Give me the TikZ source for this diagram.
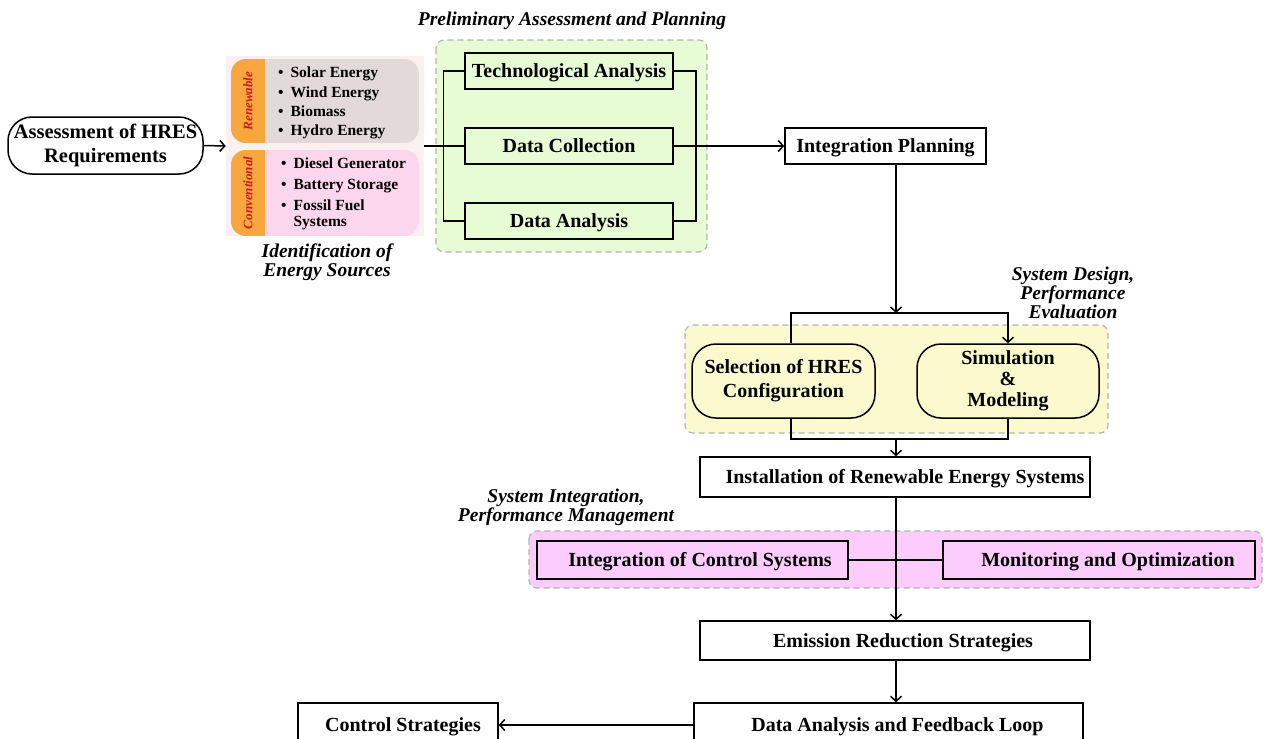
\documentclass[tikz,border=0pt]{standalone}
\usepackage{fontspec}
\setmainfont{Liberation Serif}
\usetikzlibrary{arrows.meta,calc}
\definecolor{greenbg}{RGB}{231,251,212}
\definecolor{yellowbg}{RGB}{251,250,206}
\definecolor{pinkbg}{RGB}{252,204,252}
\definecolor{ebg}{RGB}{252,239,239}
\definecolor{rengray}{RGB}{226,218,218}
\definecolor{convpink}{RGB}{252,214,236}
\definecolor{stripor}{RGB}{248,166,62}
\definecolor{lblred}{RGB}{200,28,40}
\definecolor{dashgray}{RGB}{180,180,180}
\newcommand\bxfont{\fontsize{20}{24}\selectfont\bfseries}
\newcommand\asfont{\fontsize{20.5}{24}\selectfont\bfseries}
\newcommand\ttfnt{\fontsize{19.5}{19}\selectfont\bfseries\itshape}
\newcommand\lsfont{\fontsize{15.5}{19.3}\selectfont\bfseries}
\tikzset{
  line/.style={line width=1.5pt, black},
  arr/.style={line, -{Straight Barb[length=5pt,width=11pt,line width=1.5pt]}},
  rbox/.style={draw, line width=1.5pt, rectangle, font=\bxfont, inner sep=0pt, align=center},
  sbox/.style={rbox, text height=15pt, text depth=2pt},
  pill/.style={rbox, rounded corners=24pt},
  grp/.style={draw=dashgray, line width=1.2pt, rounded corners=8pt, dash pattern=on 6pt off 4pt},
  ttl/.style={font=\ttfnt, align=center},
  vlab/.style={rotate=90, font=\fontsize{13}{15}\selectfont\bfseries\itshape, text=lblred},
}
\begin{document}
\begin{tikzpicture}[x=1pt,y=-1pt]
\useasboundingbox (0,0) rectangle (1264,739);
\clip (0,0) rectangle (1264,739);
\fill[white] (0,0) rectangle (1264,739);

% group backgrounds
\path[grp, fill=greenbg] (436,40) rectangle (707,252);
\path[grp, fill=yellowbg] (685,325) rectangle (1108,433);
\path[grp, fill=pinkbg] (529,531) rectangle (1262,588);

% assessment
\node[pill, minimum width=195, minimum height=57, font=\asfont] (assess) at (105.5,145.5) {Assessment of HRES\\Requirements};

% energy sources
\node[fill=ebg, minimum width=198, minimum height=180, inner sep=0pt] (sources) at (325,146) {};
\begin{scope}
\clip[rounded corners=15pt] (231,59) rectangle (419,143);
\fill[rengray] (231,59) rectangle (419,143);
\fill[stripor] (231,59) rectangle (265,143);
\end{scope}
\begin{scope}
\clip[rounded corners=15pt] (231,150) rectangle (419,236);
\fill[convpink] (231,150) rectangle (419,236);
\fill[stripor] (231,150) rectangle (265,236);
\end{scope}
\node[vlab] (lren) at (248,101) {Renewable};
\node[vlab] (lconv) at (248,193) {Conventional};
\node[anchor=west, inner sep=0pt, font=\lsfont] (renlist) at (278,103) {\begin{tabular}{@{}l@{\hspace{7pt}}l@{}}\textbullet & Solar Energy\\ \textbullet & Wind Energy\\ \textbullet & Biomass\\ \textbullet & Hydro Energy\end{tabular}};
\node[anchor=west, inner sep=0pt, font=\fontsize{15.5}{16}\selectfont\bfseries] (convlist) at (281,194) {\begin{tabular}{@{}l@{\hspace{7pt}}l@{}}\textbullet & Diesel Generator\\[5pt] \textbullet & Battery Storage\\[5pt] \textbullet & Fossil Fuel\\ & Systems\end{tabular}};

% preliminary
\node[sbox, minimum width=208, minimum height=36] (tech) at (569,71) {Technological Analysis};
\node[sbox, minimum width=208, minimum height=36] (datacol) at (569,146) {Data Collection};
\node[sbox, minimum width=208, minimum height=36] (dana) at (569,221) {Data Analysis};
\node[sbox, minimum width=201, minimum height=36] (intplan) at (885.5,146) {Integration Planning};

% design
\node[pill, fill=yellowbg, minimum width=183, minimum height=74] (sel) at (783.5,381) {Selection of HRES\\Configuration};
\node[pill, fill=yellowbg, minimum width=182, minimum height=74] (sim) at (1008,381) {Simulation\\[-3pt]\&\\[-3pt]Modeling};

\node[sbox, fill=white, minimum width=390, minimum height=40] (inst) at (895,477) {\hspace*{20pt}Installation of Renewable Energy Systems};
\node[sbox, fill=pinkbg, minimum width=311, minimum height=38] (intctrl) at (692.5,560) {\hspace*{15pt}Integration of Control Systems};
\node[sbox, fill=pinkbg, minimum width=312, minimum height=38] (monitor) at (1099,560) {\hspace*{18pt}Monitoring and Optimization};
\node[sbox, fill=white, minimum width=390, minimum height=39] (emis) at (895,640.5) {\hspace*{16pt}Emission Reduction Strategies};
\node[sbox, fill=white, minimum width=389, minimum height=44] (fb) at (888.5,725) {\hspace*{18pt}Data Analysis and Feedback Loop};
\node[sbox, fill=white, minimum width=200, minimum height=44] (ctrl) at (398,725) {\hspace*{10pt}Control Strategies};

% titles
\node[ttl] (t1) at (572,21) {Preliminary Assessment and Planning};
\node[ttl] (t2) at (327,262) {Identification of\\Energy Sources};
\node[ttl] (t3) at (1073,293) {System Design,\\Performance\\Evaluation};
\node[ttl] (t4) at (566,507) {System Integration,\\Performance Management};

% connectors
\coordinate (c896) at (896,0);
\coordinate (c791) at (791,0);
\coordinate (split) at (896,313);
\coordinate (join) at (896,439);
\draw[arr] (assess.east) -- (sources.west);
\draw[line] (sources.east) -- (datacol.west);
\draw[line] (tech.west) -- ++(-21,0) |- (dana.west);
\draw[line] (tech.east) -- ++(22,0) |- (dana.east);
\draw[arr] (datacol.east) -- (intplan.west);
\draw[arr] (intplan.south -| c896) -- (split);
\draw[line] (sel.north -| c791) |- (split);
\draw[arr] (split) -| (sim.north);
\draw[line] (sel.south -| c791) |- (join) -| (sim.south);
\draw[arr] (join) -- (inst.north -| c896);
\draw[arr] (inst.south -| c896) -- (emis.north -| c896);
\draw[line] (intctrl.east) -- (monitor.west);
\draw[arr] (emis.south -| c896) -- (fb.north -| c896);
\draw[arr] (fb.west) -- (ctrl.east);
\end{tikzpicture}
\end{document}
